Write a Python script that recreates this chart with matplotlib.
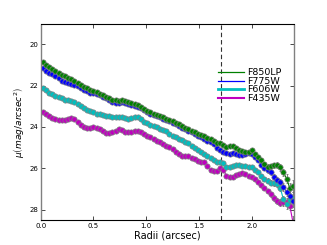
import numpy as np
import matplotlib
matplotlib.use('Agg')
import matplotlib.pyplot as plt
from matplotlib.lines import Line2D

# radii of the isophote samples (arcsec)
radii = [0.02, 0.05, 0.08, 0.11, 0.14, 0.17, 0.20, 0.23, 0.26, 0.29,
         0.32, 0.35, 0.38, 0.41, 0.44, 0.47, 0.50, 0.53, 0.56, 0.59,
         0.62, 0.65, 0.68, 0.71, 0.74, 0.77, 0.80, 0.83, 0.86, 0.89,
         0.92, 0.95, 0.98, 1.01, 1.04, 1.07, 1.10, 1.13, 1.16, 1.19,
         1.22, 1.25, 1.28, 1.31, 1.34, 1.37, 1.40, 1.43, 1.46, 1.49,
         1.52, 1.55, 1.58, 1.61, 1.64, 1.67, 1.70, 1.73, 1.76, 1.79,
         1.82, 1.85, 1.88, 1.91, 1.94, 1.97, 2.00, 2.03, 2.06, 2.09,
         2.12, 2.15, 2.18, 2.21, 2.24, 2.27, 2.30, 2.33, 2.36, 2.39]

mu_f850lp = [20.87, 21.00, 21.12, 21.22, 21.32, 21.40, 21.48, 21.55, 21.62, 21.70,
             21.78, 21.88, 21.98, 22.06, 22.14, 22.20, 22.26, 22.32, 22.40, 22.48,
             22.56, 22.62, 22.68, 22.72, 22.74, 22.72, 22.76, 22.82, 22.86, 22.90,
             22.96, 23.04, 23.12, 23.22, 23.30, 23.36, 23.42, 23.48, 23.54, 23.60,
             23.66, 23.72, 23.80, 23.88, 23.96, 24.04, 24.10, 24.18, 24.26, 24.34,
             24.40, 24.46, 24.54, 24.60, 24.70, 24.76, 24.80, 24.88, 24.96, 24.94,
             24.92, 25.02, 25.10, 25.16, 25.20, 25.20, 25.14, 25.30, 25.44, 25.62,
             25.80, 25.92, 25.90, 25.86, 25.84, 25.95, 26.20, 26.50, 26.95, 26.85]

mu_f775w = [21.13, 21.28, 21.38, 21.46, 21.56, 21.66, 21.76, 21.84, 21.90, 21.94,
            21.96, 22.04, 22.14, 22.22, 22.28, 22.34, 22.38, 22.42, 22.48, 22.54,
            22.62, 22.70, 22.78, 22.84, 22.84, 22.82, 22.86, 22.90, 22.94, 22.98,
            23.04, 23.10, 23.18, 23.28, 23.36, 23.42, 23.48, 23.54, 23.60, 23.66,
            23.72, 23.80, 23.88, 23.96, 24.04, 24.10, 24.18, 24.26, 24.34, 24.42,
            24.50, 24.58, 24.66, 24.74, 24.82, 25.00, 25.14, 25.22, 25.26, 25.30,
            25.28, 25.32, 25.36, 25.34, 25.30, 25.26, 25.30, 25.44, 25.60, 25.84,
            25.98, 26.10, 26.20, 26.40, 26.55, 26.68, 26.90, 27.15, 27.35, 27.60]

mu_f606w = [22.13, 22.24, 22.34, 22.42, 22.50, 22.56, 22.62, 22.68, 22.72, 22.76,
            22.80, 22.88, 22.98, 23.08, 23.16, 23.24, 23.30, 23.36, 23.40, 23.44,
            23.46, 23.48, 23.50, 23.52, 23.54, 23.52, 23.56, 23.60, 23.56, 23.50,
            23.54, 23.64, 23.74, 23.82, 23.90, 23.96, 24.02, 24.08, 24.14, 24.22,
            24.32, 24.42, 24.50, 24.58, 24.64, 24.72, 24.80, 24.90, 25.00, 25.10,
            25.20, 25.30, 25.40, 25.50, 25.60, 25.68, 25.72, 25.74, 25.92, 25.94,
            25.88, 25.84, 25.86, 25.90, 25.90, 25.92, 25.96, 26.06, 26.20, 26.36,
            26.50, 26.60, 26.70, 26.72, 26.76, 26.95, 27.50, 27.75, 27.55, 27.45]

mu_f435w = [23.30, 23.40, 23.48, 23.56, 23.62, 23.66, 23.68, 23.66, 23.62, 23.58,
            23.62, 23.76, 23.92, 24.00, 24.04, 24.04, 24.02, 24.04, 24.12, 24.22,
            24.28, 24.30, 24.26, 24.18, 24.12, 24.16, 24.24, 24.26, 24.24, 24.20,
            24.20, 24.26, 24.34, 24.42, 24.50, 24.58, 24.66, 24.74, 24.82, 24.90,
            24.98, 25.08, 25.20, 25.32, 25.40, 25.42, 25.42, 25.48, 25.56, 25.64,
            25.68, 25.70, 25.90, 26.10, 26.14, 26.12, 25.98, 26.08, 26.36, 26.42,
            26.40, 26.34, 26.26, 26.22, 26.28, 26.36, 26.42, 26.52, 26.64, 26.80,
            26.96, 27.10, 27.26, 27.44, 27.60, 27.66, 27.62, 27.64, 27.80, 28.60]

mu_err = [0.04, 0.04, 0.04, 0.04, 0.04, 0.04, 0.04, 0.04, 0.04, 0.04,
          0.04, 0.04, 0.04, 0.04, 0.04, 0.04, 0.04, 0.04, 0.04, 0.04,
          0.04, 0.04, 0.04, 0.04, 0.04, 0.04, 0.04, 0.04, 0.04, 0.04,
          0.05, 0.05, 0.05, 0.05, 0.05, 0.05, 0.05, 0.05, 0.05, 0.05,
          0.05, 0.05, 0.05, 0.05, 0.05, 0.05, 0.05, 0.05, 0.05, 0.05,
          0.06, 0.06, 0.06, 0.06, 0.06, 0.06, 0.06, 0.06, 0.06, 0.06,
          0.07, 0.07, 0.07, 0.07, 0.08, 0.08, 0.08, 0.09, 0.09, 0.10,
          0.10, 0.11, 0.12, 0.13, 0.14, 0.16, 0.18, 0.20, 0.24, 0.28]

bands = ['F850LP', 'F775W', 'F606W', 'F435W']
band_mu = [mu_f850lp, mu_f775w, mu_f606w, mu_f435w]
band_col = ['green', 'blue', 'c', 'm']
band_lw = [0.9, 0.9, 2.0, 1.5]

r_eff = 1.71  # dashed reference radius

fig = plt.figure(figsize=(3.27, 2.45), dpi=100)
ax = fig.add_axes([0.1245, 0.102, 0.7745, 0.798])

# draw faintest band first so green ends up on top
for mu, col in zip(band_mu[::-1], band_col[::-1]):
    ax.errorbar(radii, mu, yerr=mu_err, fmt='-o', color=col, ecolor='0.4',
                elinewidth=0.6, capsize=1, capthick=0.5, ms=3.8, mec='0.5', mew=0.5, lw=0.8)

ax.axvline(r_eff, color='0.2', ls='--', lw=0.8, dashes=(4, 2.6))

ax.set_xlim(0.0, 2.4)
ax.set_ylim(28.5, 19.05)
ax.set_xticks([0.0, 0.5, 1.0, 1.5, 2.0])
ax.set_yticks([20, 22, 24, 26, 28])
ax.tick_params(direction='in', top=True, right=True, labelsize=5, length=3, width=0.5, pad=2)
for side in ['left', 'right']:
    ax.spines[side].set_color('0.5')
    ax.spines[side].set_linewidth(1.0)
for side in ['top', 'bottom']:
    ax.spines[side].set_linewidth(0.8)

ax.set_xlabel('Radii (arcsec)', fontsize=7, labelpad=1)
ax.set_ylabel(r'$\mu\left(mag/arcsec^2\right)$', fontsize=6.5, labelpad=2)

handles = [Line2D([], [], color=c, lw=w) for c, w in zip(band_col, band_lw)]
ax.legend(handles, bands, loc='upper left', bbox_to_anchor=(0.68, 0.80), frameon=False,
          fontsize=6.8, handlelength=2.8, handletextpad=0.3, labelspacing=-0.05, borderpad=0)

fig.savefig('out.png', dpi=100)
